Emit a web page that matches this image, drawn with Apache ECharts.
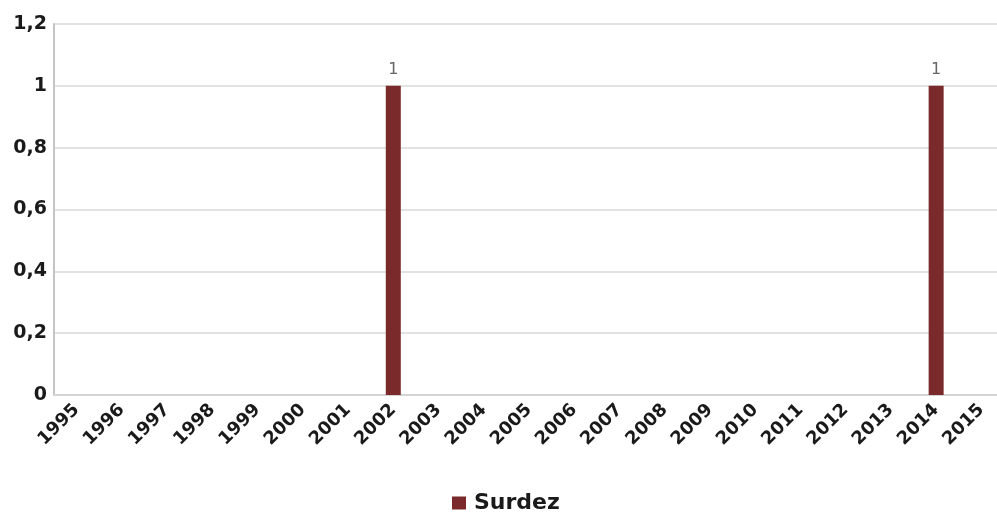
<!DOCTYPE html>
<html><head><meta charset="utf-8">
<script src="https://cdn.jsdelivr.net/npm/echarts@6/dist/echarts.min.js"></script>
<style>html,body{margin:0;padding:0;background:#fff}#c{width:997px;height:512px}</style>
</head><body><div id="c"></div>
<script>
const categories = ['1995','1996','1997','1998','1999','2000','2001','2002','2003','2004','2005','2006','2007','2008','2009','2010','2011','2012','2013','2014','2015'];
const surdez = [0,0,0,0,0,0,0,1,0,0,0,0,0,0,0,0,0,0,0,1,0];
const seriesName = 'Surdez';
const chart = echarts.init(document.getElementById('c'));
chart.setOption({
  animation:false,
  grid:{left:54,width:950,top:24,height:371,outerBoundsMode:'none',containLabel:false},
  legend:{bottom:-7,left:447,itemWidth:14,itemHeight:13,icon:'rect',itemGap:9,
    textStyle:{fontFamily:'DejaVu Sans',fontWeight:'bold',fontSize:22,color:'#1a1a1a',padding:[0,0,0,3]},data:[seriesName]},
  xAxis:{type:'category',data:categories,
    axisLine:{lineStyle:{color:'#d4d4d4',width:2}},axisTick:{show:false},
    axisLabel:{rotate:45,interval:0,fontFamily:'DejaVu Sans',fontWeight:'bold',fontSize:18,color:'#1a1a1a',margin:12}},
  yAxis:{type:'value',min:0,max:1.2,interval:0.2,
    axisLine:{show:true,lineStyle:{color:'#c4c4c4',width:2}},
    splitLine:{lineStyle:{color:'#d9d9d9',width:1.5}},
    axisLabel:{fontFamily:'DejaVu Sans',fontWeight:'bold',fontSize:19,color:'#1a1a1a',margin:7,
      formatter:v=>String(Math.round(v*10)/10).replace('.',',')}},
  series:[{name:seriesName,type:'bar',data:surdez,barWidth:15,
    itemStyle:{color:'#7a2a2a'},
    label:{show:true,position:'top',color:'#666',fontFamily:'DejaVu Sans',fontSize:16,distance:8,
      formatter:p=>p.value>0?String(p.value):''}}]
});
</script></body></html>
